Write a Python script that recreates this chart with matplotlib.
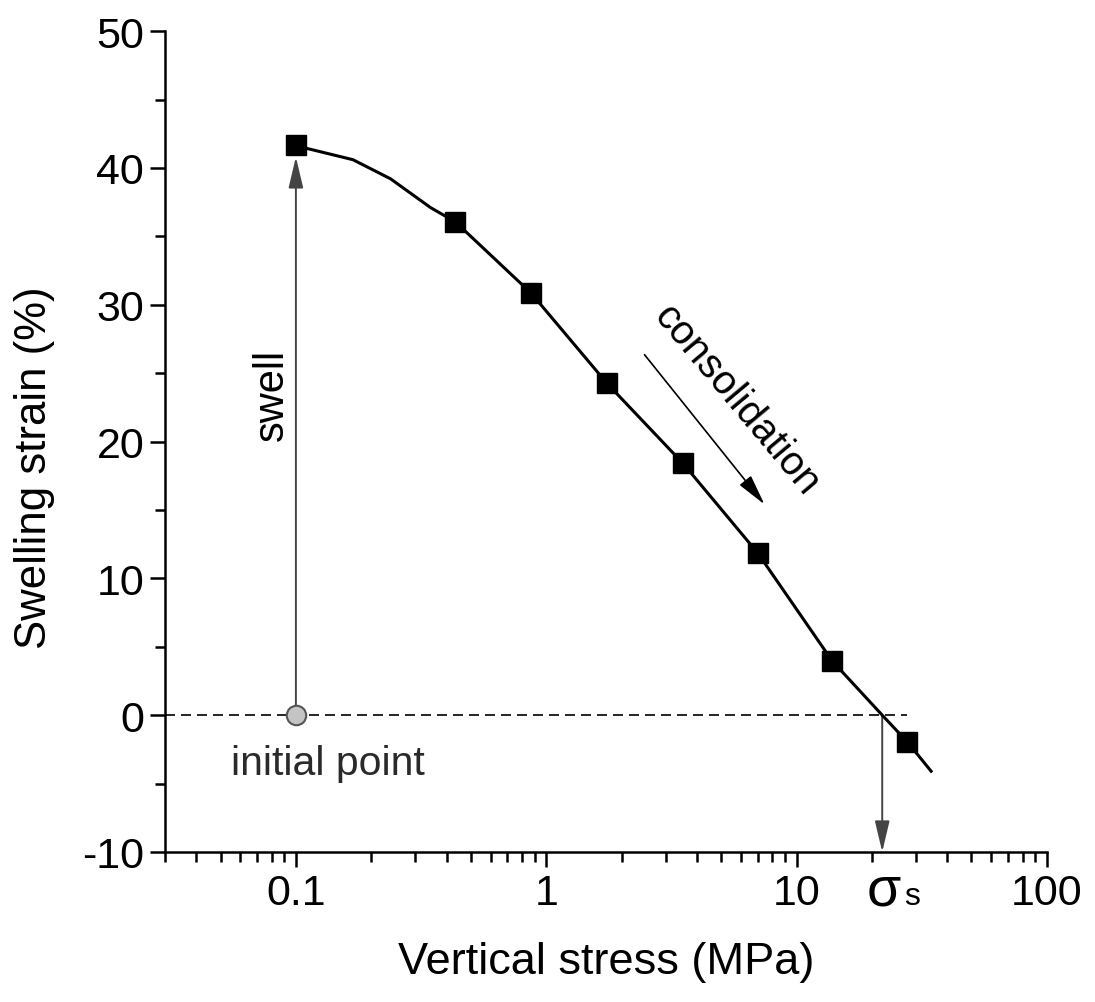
import matplotlib
matplotlib.use("Agg")
import matplotlib.pyplot as plt

plt.rcParams['font.family'] = ['Liberation Sans', 'DejaVu Sans']
plt.rcParams['axes.unicode_minus'] = False

# measured points (vertical stress MPa, swelling strain %)
stress = [0.1, 0.434, 0.87, 1.75, 3.52, 7.0, 13.9, 27.7]
strain = [41.7, 36.05, 30.85, 24.25, 18.4, 11.85, 3.95, -1.95]

# fitted curve
curve_x = [0.1, 0.112, 0.169, 0.239, 0.345, 0.434, 0.87, 1.75, 3.52, 7.0, 13.9, 22.0, 27.7, 34.5]
curve_y = [41.6, 41.4, 40.6, 39.2, 37.1, 36.05, 30.85, 24.25, 18.4, 11.85, 3.95, 0.0, -1.95, -4.1]

x_init, y_init = 0.1, 0.0
sigma_s = 22.0

fig = plt.figure(figsize=(10.95, 10.03), dpi=100)
ax = fig.add_axes([0.1507, 0.1496, 0.8053, 0.8184])

ax.plot(curve_x, curve_y, color='black', lw=2.2, zorder=3)
ax.plot(stress, strain, 's', color='black', ms=14.5, zorder=4)

# zero line
ax.plot([0.03, 27.7], [0, 0], color='black', lw=1.2, ls=(0, (6, 3.6)), zorder=1)

arrow_style = '-|>,head_length=1.9,head_width=0.45'

# swell arrow
ax.annotate('', xy=(x_init, 40.8), xytext=(x_init, y_init),
            arrowprops=dict(arrowstyle=arrow_style, color='#444444', lw=1.4,
                            shrinkA=0, shrinkB=0), zorder=2)
ax.plot([x_init], [y_init], 'o', ms=14, mfc='#c4c4c4', mec='#555555', mew=1.5, zorder=5)

# sigma_s arrow
ax.annotate('', xy=(sigma_s, -10), xytext=(sigma_s, 0),
            arrowprops=dict(arrowstyle=arrow_style, color='#444444', lw=1.4,
                            shrinkA=0, shrinkB=0), zorder=2)

# consolidation arrow
ax.annotate('', xy=(7.45, 15.4), xytext=(2.47, 26.35),
            arrowprops=dict(arrowstyle=arrow_style, color='black', lw=1.2,
                            shrinkA=0, shrinkB=0))

ax.text(0.0802, 23.45, 'swell', rotation=90, fontsize=30, ha='center', va='center')
ax.text(5.75, 23.1, 'consolidation', rotation=-50, fontsize=29, ha='center', va='center',
        rotation_mode='anchor')
ax.text(0.134, -3.5, 'initial point', fontsize=29.5, ha='center', va='center', color='#2a2a2a')

ax.set_xscale('log')
ax.set_xlim(0.03, 100)
ax.set_ylim(-10, 50)
ax.set_xticks([0.1, 1, 10, 100])
ax.set_xticklabels(['0.1', '1', '10', '100'])
ax.set_yticks(range(-10, 51, 10))
ax.set_yticks(range(-5, 50, 10), minor=True)

ax.spines['top'].set_visible(False)
ax.spines['right'].set_visible(False)
for s in ['left', 'bottom']:
    ax.spines[s].set_linewidth(1.8)
ax.tick_params(which='major', length=11, width=1.8, labelsize=31, pad=4)
ax.tick_params(which='minor', length=7, width=1.8)

# sigma_s label under the axis
ax.annotate('σ', xy=(sigma_s, 0), xycoords=('data', 'axes fraction'),
            xytext=(-11, -37.5), textcoords='offset points', ha='left', va='baseline',
            fontsize=40)
ax.annotate('s', xy=(sigma_s, 0), xycoords=('data', 'axes fraction'),
            xytext=(15.5, -37.5), textcoords='offset points', ha='left', va='baseline',
            fontsize=23)

ax.set_xlabel('Vertical stress (MPa)', fontsize=32.5, labelpad=20)
ax.set_ylabel('Swelling strain (%)', fontsize=31.5)
ax.yaxis.set_label_coords(-0.125, 0.469)

fig.savefig('out.png', dpi=100)
